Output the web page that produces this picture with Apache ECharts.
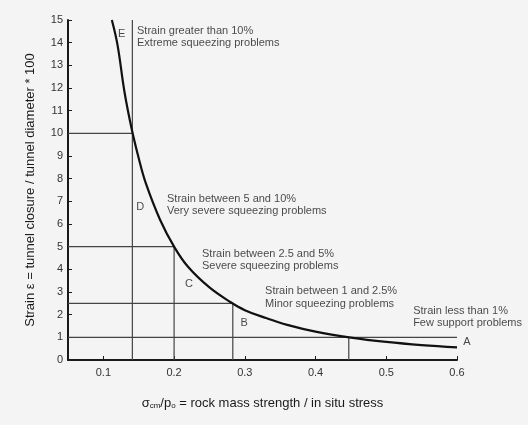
<!DOCTYPE html>
<html>
<head>
<meta charset="utf-8">
<script src="https://cdn.jsdelivr.net/npm/echarts@6/dist/echarts.min.js"></script>
<style>html,body{margin:0;padding:0;background:#f4f4f4;}#c{width:528px;height:425px;}</style>
</head>
<body>
<div id="c"></div>
<script>
// Curve: [stress ratio, strain %]
const curveX = [0.112, 0.12, 0.13, 0.14, 0.15, 0.16, 0.18, 0.20, 0.22, 0.25, 0.28, 0.30, 0.33, 0.36, 0.40, 0.45, 0.50, 0.55, 0.60];
const curveY = [15.0, 13.9, 11.8, 10.2, 8.9, 7.8, 6.2, 5.0, 4.1, 3.2, 2.55, 2.2, 1.85, 1.55, 1.25, 0.99, 0.80, 0.66, 0.56];
// Class boundaries
const strainLimits = [10, 5, 2.5, 1];
const crossX = [0.141, 0.2, 0.283, 0.447];
const hLineEnd = [0.141, 0.2, 0.283, 0.6];
const vLineTop = [15, 5, 2.5, 1];
const xTicks = [0.1, 0.2, 0.3, 0.4, 0.5, 0.6];
// Zone letters
const zoneLetters = ['E', 'D', 'C', 'B', 'A'];
const letterPos = [[0.126, 14.4], [0.152, 6.75], [0.221, 3.35], [0.299, 1.63], [0.614, 0.8]];
// Zone descriptions
const zoneTexts = [
  'Strain greater than 10%\nExtreme squeezing problems',
  'Strain between 5 and 10%\nVery severe squeezing problems',
  'Strain between 2.5 and 5%\nSevere squeezing problems',
  'Strain between 1 and 2.5%\nMinor squeezing problems',
  'Strain less than 1%\nFew support problems'
];
const textPos = [[0.1476, 14.25], [0.19, 6.84], [0.2395, 4.41], [0.3286, 2.76], [0.538, 1.90]];

const XMIN = 0.05, XMAX = 0.6;
const font = 'Liberation Sans, Arial, sans-serif';
const ink = '#1a1a1a';

const series = [];
strainLimits.forEach((s, i) => {
  series.push({type: 'line', data: [[XMIN, s], [hLineEnd[i], s]], symbol: 'none', silent: true,
    lineStyle: {color: '#444', width: 1.2}, z: 2});
  series.push({type: 'line', data: [[crossX[i], 0], [crossX[i], vLineTop[i]]], symbol: 'none', silent: true,
    lineStyle: {color: '#444', width: 1.2}, z: 2});
});
series.push({type: 'line', data: curveX.map((x, i) => [x, curveY[i]]), smooth: 0.4, symbol: 'none',
  lineStyle: {color: '#111', width: 2.2}, z: 3});
series.push({type: 'scatter', symbolSize: 0, clip: false, silent: true,
  data: letterPos.map((p, i) => ({value: p, name: zoneLetters[i]})),
  label: {show: true, position: 'inside', formatter: '{b}', fontFamily: font, fontSize: 11, color: ink}});
series.push({type: 'scatter', symbolSize: 0, clip: false, silent: true,
  data: textPos.map((p, i) => ({value: p, name: zoneTexts[i]})),
  label: {show: true, position: 'right', distance: 0, formatter: '{b}', fontFamily: font, fontSize: 11,
    lineHeight: 12.5, color: ink, align: 'left', verticalAlign: 'middle'}});

const chart = echarts.init(document.getElementById('c'));
chart.setOption({
  backgroundColor: '#f4f4f4',
  animation: false,
  grid: {left: 68, right: 71, top: 20, bottom: 65},
  xAxis: {
    type: 'value', min: XMIN, max: XMAX,
    name: '{s|σ}{sub|cm}{s|/p}{sub|o}{s| = rock mass strength / in situ stress}',
    nameLocation: 'middle', nameGap: 36,
    nameTextStyle: {rich: {
      s: {fontFamily: font, fontSize: 13, color: ink},
      sub: {fontFamily: font, fontSize: 8, color: ink, verticalAlign: 'bottom', padding: [6, 0, 0, 0]}
    }},
    axisLine: {lineStyle: {color: ink, width: 2}},
    axisTick: {inside: true, length: 4, customValues: xTicks, lineStyle: {color: ink}},
    axisLabel: {customValues: xTicks, fontFamily: font, fontSize: 11, color: '#333', margin: 7,
      formatter: v => v.toFixed(1)},
    splitLine: {show: false}
  },
  yAxis: {
    type: 'value', min: 0, max: 15, interval: 1,
    name: 'Strain ε = tunnel closure / tunnel diameter * 100',
    nameLocation: 'middle', nameGap: 31,
    nameTextStyle: {fontFamily: font, fontSize: 13, color: ink},
    axisLine: {lineStyle: {color: ink, width: 2}},
    axisTick: {inside: true, length: 4, lineStyle: {color: ink}},
    axisLabel: {fontFamily: font, fontSize: 11, color: '#333', margin: 5},
    splitLine: {show: false}
  },
  series: series
});
</script>
</body>
</html>
